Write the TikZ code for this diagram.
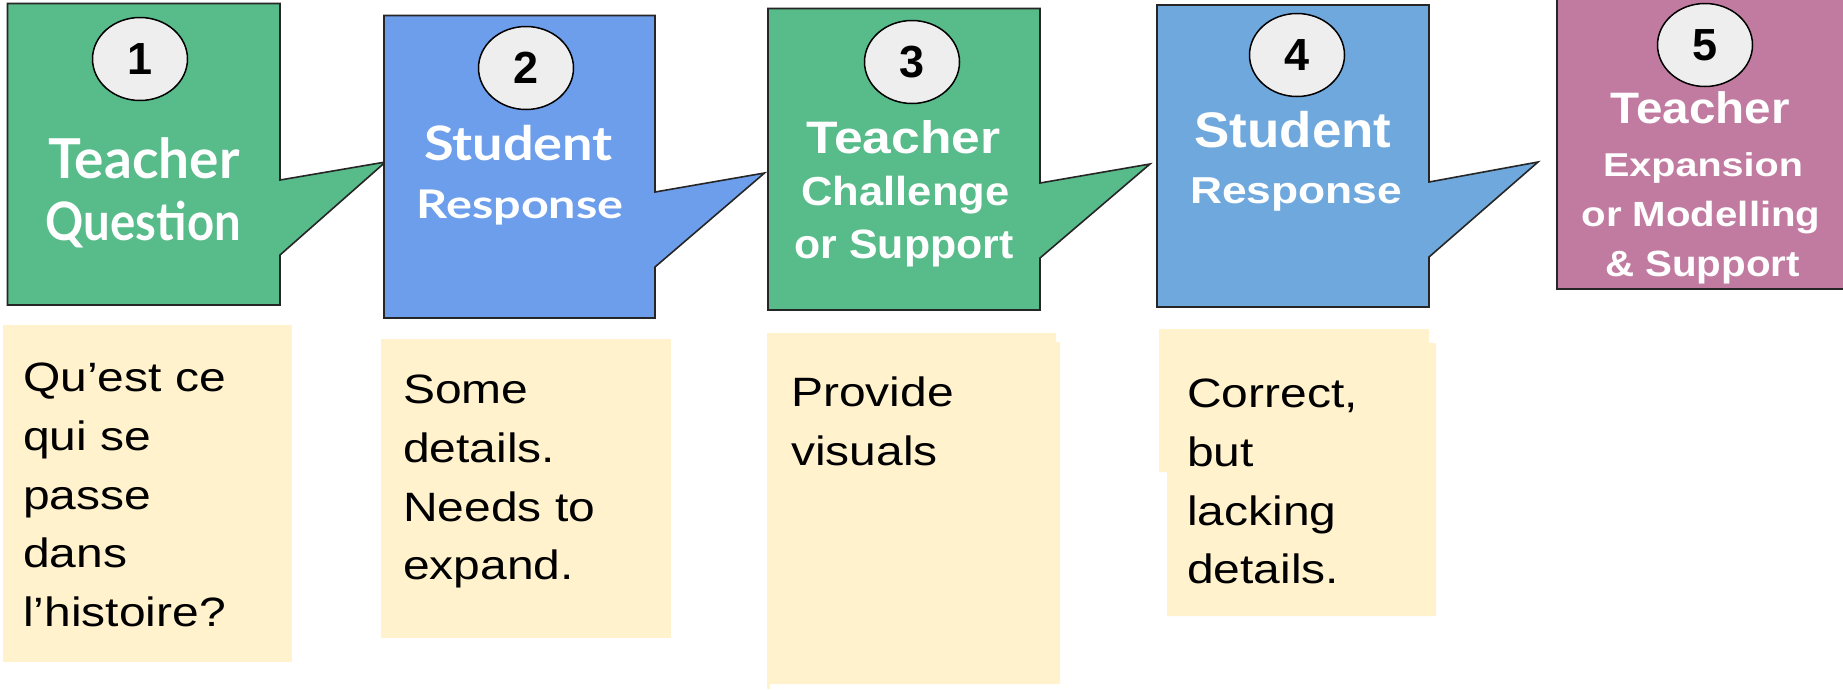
\documentclass[tikz,border=0pt]{standalone}
\usepackage{fontspec}
\usepackage{graphicx}
\newfontfamily\arialB{Liberation Sans}
\newfontfamily\latoB{Lato}
\newfontfamily\notefont{Liberation Sans}[FakeStretch=1.17]
\newcommand\fitL[3]{{\latoB\bfseries\fontsize{#1}{#1}\selectfont\resizebox{#2pt}{\height}{#3}}}
\newcommand\fitA[3]{{\arialB\bfseries\fontsize{#1}{#1}\selectfont\resizebox{#2pt}{\height}{#3}}}
\definecolor{cgreen}{HTML}{57BB8A}
\definecolor{cblueA}{HTML}{6D9EEB}
\definecolor{cblueB}{HTML}{6FA8DC}
\definecolor{cpink}{HTML}{C27BA0}
\definecolor{cnote}{HTML}{FFF2CC}
\definecolor{ccirc}{HTML}{EEEEEE}
\usetikzlibrary{shapes.geometric}
\tikzset{
  bubble/.style={draw=black!85, line width=1.6pt, line join=miter},
  note/.style={fill=cnote, draw=none},
  numcirc/.style={ellipse, draw=black, line width=1.5pt, fill=ccirc, minimum width=95pt, minimum height=83pt, inner sep=0pt, font=\arialB\bfseries\fontsize{45}{45}\selectfont},
  hdr/.style={anchor=base, text=white, inner sep=0pt},
  notetext/.style={anchor=north west, align=left, inner sep=0pt, text=black, font=\notefont\fontsize{41}{58.7}\selectfont}
}
\begin{document}
\begin{tikzpicture}[x=1pt,y=-1pt]
\useasboundingbox (0,0) rectangle (1843,689);
% ---- speech boxes ----
\filldraw[bubble, fill=cgreen] (7.5,3.5) -- (280,3.5) -- (280,180) -- (385.5,162) -- (280,255) -- (280,305) -- (7.5,305) -- cycle;
\filldraw[bubble, fill=cblueA] (384,15.5) -- (655,15.5) -- (655,192) -- (764.5,173) -- (655,267) -- (655,318) -- (384,318) -- cycle;
\filldraw[bubble, fill=cgreen] (768,8.5) -- (1040,8.5) -- (1040,183) -- (1150,164) -- (1040,258) -- (1040,310) -- (768,310) -- cycle;
\filldraw[bubble, fill=cblueB] (1157,5) -- (1429,5) -- (1429,182) -- (1538,162) -- (1429,257) -- (1429,307) -- (1157,307) -- cycle;
\filldraw[bubble, fill=cpink] (1845,-2) -- (1557,-2) -- (1557,289) -- (1845,289);
% ---- number circles ----
\node[numcirc] (c1) at (140,59) {1};
\node[numcirc] (c2) at (526,68) {2};
\node[numcirc] (c3) at (912,62) {3};
\node[numcirc] (c4) at (1297,55) {4};
\node[numcirc] (c5) at (1705,45) {5};
% ---- headers ----
\node[hdr] (h1a) at (144,178) {\fitL{55}{191}{Teacher}};
\node[hdr] (h1b) at (143.5,240) {\fitL{53}{195}{Question}};
\node[hdr] (h2a) at (518.5,160) {\fitL{47.5}{189}{Student}};
\node[hdr] (h2b) at (520,218) {\fitL{39.5}{207}{Response}};
\node[hdr] (h3a) at (903.5,153) {\fitA{45.5}{194}{Teacher}};
\node[hdr] (h3b) at (905.5,205) {\fitA{40.5}{208}{Challenge}};
\node[hdr] (h3c) at (904,258) {\fitA{41}{219}{or Support}};
\node[hdr] (h4a) at (1293,147) {\fitA{50}{197}{Student}};
\node[hdr] (h4b) at (1296,203) {\fitA{37.5}{212}{Response}};
\node[hdr] (h5a) at (1700,123) {\fitA{44}{179}{Teacher}};
\node[hdr] (h5b) at (1703,176) {\fitA{33}{200}{Expansion}};
\node[hdr] (h5c) at (1701,226.5) {\fitA{35}{239}{or Modelling}};
\node[hdr] (h5d) at (1702.5,276) {\fitA{36.5}{195}{\&~Support}};
% ---- notes ----
\fill[note] (3,325) rectangle (292,662);
\fill[note] (381,339) rectangle (671,638);
\fill[note] (767,333) -- (1056,333) -- (1056,342) -- (1060,342) -- (1060,684) -- (770,684) -- (770,689) -- (767,689) -- cycle;
\fill[note] (1159,329) -- (1429,329) -- (1429,343) -- (1436,343) -- (1436,616) -- (1167,616) -- (1167,472) -- (1159,472) -- cycle;
\node[notetext] (n1) at (23,363) {Qu’est ce\\qui se\\passe\\dans\\l’histoire?};
\node[notetext] (n2) at (403,375) {Some\\details.\\Needs to\\expand.};
\node[notetext] (n3) at (791,377) {Provide\\visuals};
\node[notetext] (n4) at (1187,379) {Correct,\\but\\lacking\\details.};
\end{tikzpicture}
\end{document}
